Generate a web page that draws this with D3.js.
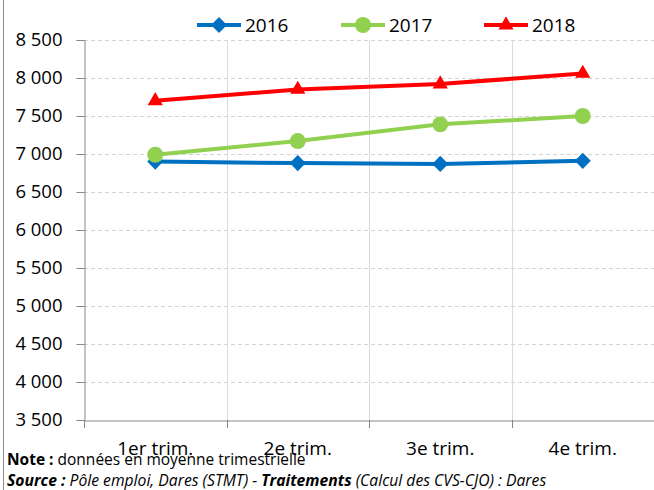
<!DOCTYPE html>
<html>
<head>
<meta charset="utf-8">
<script src="https://cdn.jsdelivr.net/npm/d3@7"></script>
<style>
  body { margin: 0; background: #fff; }
  svg { display: block; font-family: "Open Sans", Lato, sans-serif; }
</style>
</head>
<body>
<svg width="654" height="490"></svg>
<script>
var quarters = ["1er trim.", "2e trim.", "3e trim.", "4e trim."];
var years = ["2016", "2017", "2018"];
var values2016 = [6900, 6880, 6870, 6910];
var values2017 = [6990, 7170, 7390, 7500];
var values2018 = [7700, 7850, 7920, 8060];
var yTicks = [3500, 4000, 4500, 5000, 5500, 6000, 6500, 7000, 7500, 8000, 8500];
var colors = ["#0070C0", "#92D050", "#FF0000"];
var symbols = [d3.symbolDiamond2, d3.symbolCircle, d3.symbolTriangle2];

var series = years.map(function(y, i) {
  return { name: y, values: [values2016, values2017, values2018][i], color: colors[i], symbol: symbols[i] };
});

var svg = d3.select("svg");
var plotLeft = 84, plotRight = 654, plotTop = 40, plotBottom = 420;

var x = d3.scaleBand().domain(quarters).range([plotLeft, plotRight]);
var y = d3.scaleLinear().domain([3500, 8500]).range([plotBottom, plotTop]);
var fmt = function(d) { return d3.format(",")(d).replace(",", " "); };
var markerSize = function(name) { return name === "2017" ? 200 : 165; };

// outer border
svg.append("line").attr("x1", 3.5).attr("x2", 3.5).attr("y1", 0).attr("y2", 490)
  .attr("stroke", "#8c8c8c").attr("stroke-width", 1);

// horizontal grid
svg.append("g").selectAll("line").data(yTicks.slice(1)).enter().append("line")
  .attr("x1", plotLeft).attr("x2", plotRight)
  .attr("y1", function(d) { return Math.round(y(d)) + 0.5; })
  .attr("y2", function(d) { return Math.round(y(d)) + 0.5; })
  .attr("stroke", "#d4d4d4").attr("stroke-dasharray", "4,3");

// vertical grid at category boundaries
svg.append("g").selectAll("line").data(quarters.slice(1)).enter().append("line")
  .attr("x1", function(d) { return Math.round(x(d)) + 0.5; })
  .attr("x2", function(d) { return Math.round(x(d)) + 0.5; })
  .attr("y1", plotTop).attr("y2", plotBottom)
  .attr("stroke", "#d9d9d9");

// y axis
var yAxis = svg.append("g").attr("transform", "translate(" + (plotLeft + 0.5) + ",0)")
  .call(d3.axisLeft(y).tickValues(yTicks).tickFormat(fmt).tickSize(8).tickPadding(14));
yAxis.select(".domain").attr("stroke", "#868686");
yAxis.selectAll(".tick line").attr("stroke", "#868686");
yAxis.selectAll("text").attr("font-size", 18.5).attr("fill", "#000")
  .attr("font-family", "'Open Sans', sans-serif");

// x axis
var xAxis = svg.append("g").attr("transform", "translate(0," + (plotBottom + 0.5) + ")")
  .call(d3.axisBottom(x).tickSize(0).tickPadding(21));
xAxis.select(".domain").attr("stroke", "#868686");
xAxis.selectAll("text").attr("font-size", 19).attr("fill", "#000")
  .attr("font-family", "'Open Sans', sans-serif");
svg.append("g").selectAll("line").data(quarters).enter().append("line")
  .attr("x1", function(d) { return Math.round(x(d)) + 0.5; })
  .attr("x2", function(d) { return Math.round(x(d)) + 0.5; })
  .attr("y1", plotBottom).attr("y2", plotBottom + 8)
  .attr("stroke", "#868686");

// lines
var line = d3.line()
  .x(function(d, i) { return x(quarters[i]) + x.bandwidth() / 2; })
  .y(function(d) { return y(d); });

series.forEach(function(s) {
  var g = svg.append("g");
  g.append("path").datum(s.values).attr("d", line)
    .attr("fill", "none").attr("stroke", s.color).attr("stroke-width", 4);
  g.selectAll("path.m").data(s.values).enter().append("path").attr("class", "m")
    .attr("d", d3.symbol().type(s.symbol).size(markerSize(s.name)))
    .attr("transform", function(d, i) {
      return "translate(" + (x(quarters[i]) + x.bandwidth() / 2) + "," + y(d) + ")";
    })
    .attr("fill", s.color);
});

// legend
var legendX = [197, 341, 484];
var lg = svg.append("g").selectAll("g").data(series).enter().append("g")
  .attr("transform", function(d, i) { return "translate(" + legendX[i] + ",25)"; });
lg.append("line").attr("x1", 0).attr("x2", 44).attr("stroke", function(d) { return d.color; })
  .attr("stroke-width", 4);
lg.append("path").attr("transform", "translate(22,0)")
  .attr("d", function(d) { return d3.symbol().type(d.symbol).size(markerSize(d.name))(); })
  .attr("fill", function(d) { return d.color; });
lg.append("text").attr("x", 48).attr("dy", "0.36em").attr("font-size", 19)
  .text(function(d) { return d.name; });

// notes
var note = svg.append("text").attr("x", 7).attr("y", 465).attr("font-size", 15.5);
note.append("tspan").attr("font-weight", "bold").text("Note :");
note.append("tspan").text(" données en moyenne trimestrielle");

var src = svg.append("text").attr("x", 7).attr("y", 486).attr("font-size", 15.7)
  .attr("font-style", "italic");
src.append("tspan").attr("font-weight", "bold").text("Source :");
src.append("tspan").text(" Pôle emploi, Dares (STMT) - ");
src.append("tspan").attr("font-weight", "bold").text("Traitements");
src.append("tspan").text(" (Calcul des CVS-CJO) : Dares");
</script>
</body>
</html>
